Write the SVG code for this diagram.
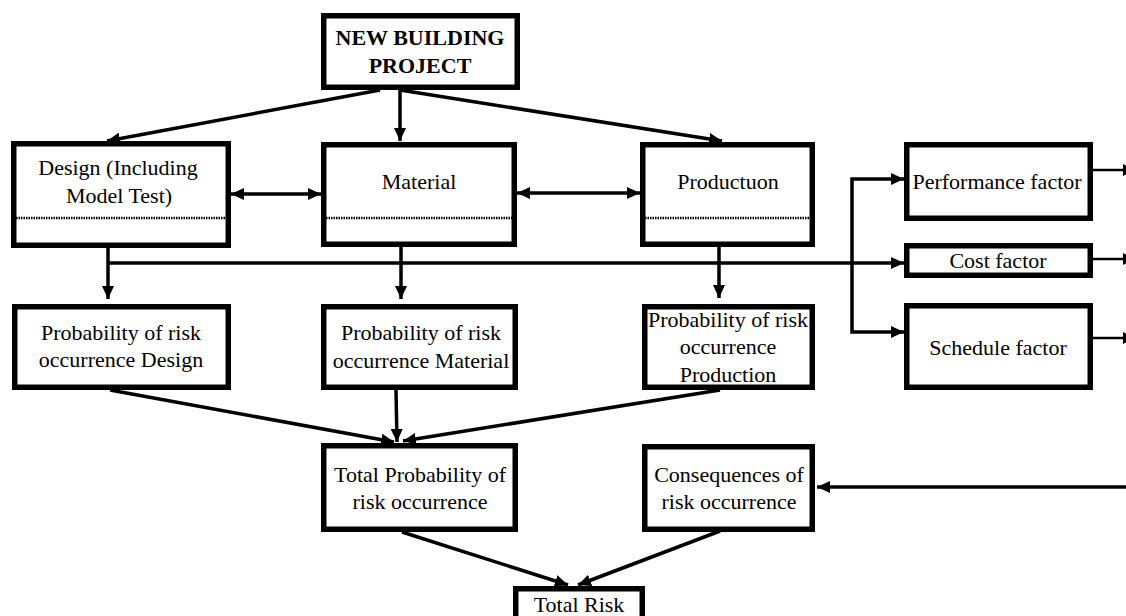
<svg xmlns="http://www.w3.org/2000/svg" width="1126" height="616" viewBox="0 0 1126 616">
  <style>
    .box { fill: #fff; stroke: #000; stroke-width: 5.5; }
    .sep { stroke: #000; stroke-width: 2.5; stroke-dasharray: 1.5 1; fill: none; }
    .t { font-family: "Liberation Serif", "Times New Roman", serif; font-size: 22px; fill: #000; text-anchor: middle; }
    .tb { font-weight: bold; }
    .c { stroke: #000; stroke-width: 3.5; fill: none; }
    .thin { stroke-width: 2.5; }
    .a { marker-end: url(#arrow); }
    .aa { marker-start: url(#arrow); marker-end: url(#arrow); }
  </style>
  <defs>
    <marker id="arrow" markerUnits="userSpaceOnUse" markerWidth="13" markerHeight="12" refX="13" refY="6" orient="auto-start-reverse">
      <path d="M0,0 L13,6 L0,12 z" fill="#000"/>
    </marker>
  </defs>
  <rect width="1126" height="616" fill="#fff"/>

  <!-- connectors -->
  <g id="connectors">
    <line class="c a" x1="380" y1="90" x2="107" y2="141"/>
    <line class="c a" x1="400" y1="90" x2="400" y2="141"/>
    <line class="c a" x1="400" y1="90" x2="722" y2="141"/>
    <line class="c aa" x1="231" y1="194" x2="321" y2="194"/>
    <line class="c aa" x1="517" y1="193" x2="640" y2="193"/>
    <line class="c a" x1="108" y1="248" x2="108" y2="299"/>
    <line class="c a" x1="108" y1="263" x2="904" y2="263"/>
    <line class="c a" x1="401" y1="247" x2="401" y2="299"/>
    <line class="c a" x1="719" y1="247" x2="719" y2="298"/>
    <path class="c aa" d="M904,179 H852 V332 H904"/>
    <line class="c thin a" x1="1093" y1="170" x2="1136" y2="170"/>
    <line class="c thin a" x1="1093" y1="259" x2="1136" y2="259"/>
    <line class="c thin a" x1="1093" y1="338" x2="1136" y2="338"/>
    <line class="c a" x1="1130" y1="487" x2="817" y2="487"/>
    <line class="c a" x1="110" y1="390" x2="394" y2="442"/>
    <line class="c a" x1="396" y1="390" x2="397" y2="442"/>
    <line class="c a" x1="720" y1="390" x2="403" y2="441"/>
    <line class="c a" x1="402" y1="532" x2="568" y2="585"/>
    <line class="c a" x1="720" y1="531" x2="578" y2="585"/>
  </g>

  <g id="new-building-project">
    <rect class="box" x="323.75" y="15.75" width="193.5" height="71.5"/>
    <text class="t tb" x="420" y="45">NEW BUILDING</text>
    <text class="t tb" x="420" y="73">PROJECT</text>
  </g>

  <g id="design">
    <rect class="box" x="13.75" y="143.75" width="214.5" height="101.5"/>
    <line class="sep" x1="16" y1="218" x2="228" y2="218"/>
    <text class="t" x="118" y="175">Design (Including</text>
    <text class="t" x="119" y="203">Model Test)</text>
  </g>

  <g id="material">
    <rect class="box" x="323.75" y="144.75" width="190.5" height="99.5"/>
    <line class="sep" x1="326" y1="218" x2="514" y2="218"/>
    <text class="t" x="419" y="189">Material</text>
  </g>

  <g id="production">
    <rect class="box" x="642.75" y="144.75" width="169.5" height="99.5"/>
    <line class="sep" x1="645" y1="218" x2="812" y2="218"/>
    <text class="t" x="728" y="189">Productuon</text>
  </g>

  <g id="performance-factor">
    <rect class="box" x="906.75" y="144.75" width="183.5" height="73.5"/>
    <text class="t" x="997" y="189">Performance factor</text>
  </g>

  <g id="cost-factor">
    <rect class="box" x="906.75" y="245.75" width="183.5" height="29.5"/>
    <text class="t" x="998" y="268">Cost factor</text>
  </g>

  <g id="schedule-factor">
    <rect class="box" x="906.75" y="305.75" width="183.5" height="81.5"/>
    <text class="t" x="998" y="355">Schedule factor</text>
  </g>

  <g id="prob-design">
    <rect class="box" x="14.75" y="306.75" width="213.5" height="80.5"/>
    <text class="t" x="121" y="340">Probability of risk</text>
    <text class="t" x="121" y="367">occurrence Design</text>
  </g>

  <g id="prob-material">
    <rect class="box" x="323.75" y="306.75" width="191.5" height="80.5"/>
    <text class="t" x="421" y="340">Probability of risk</text>
    <text class="t" x="421" y="368">occurrence Material</text>
  </g>

  <g id="prob-production">
    <rect class="box" x="644.75" y="306.75" width="167.5" height="80.5"/>
    <text class="t" x="728" y="327">Probability of risk</text>
    <text class="t" x="728" y="354">occurrence</text>
    <text class="t" x="728" y="382">Production</text>
  </g>

  <g id="total-probability">
    <rect class="box" x="323.75" y="445.75" width="191.5" height="83.5"/>
    <text class="t" x="420" y="482">Total Probability of</text>
    <text class="t" x="420" y="509">risk occurrence</text>
  </g>

  <g id="consequences">
    <rect class="box" x="644.75" y="446.75" width="167.5" height="82.5"/>
    <text class="t" x="729" y="482">Consequences of</text>
    <text class="t" x="729" y="509">risk occurrence</text>
  </g>

  <g id="total-risk">
    <rect class="box" x="515.75" y="588.75" width="126.5" height="40"/>
    <text class="t" x="579" y="612">Total Risk</text>
  </g>
</svg>
